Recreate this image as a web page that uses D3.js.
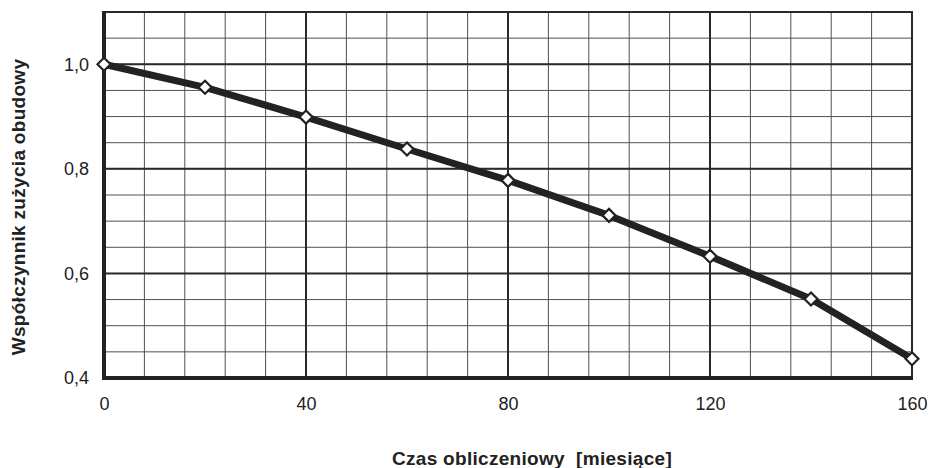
<!DOCTYPE html>
<html><head><meta charset="utf-8">
<script src="https://cdn.jsdelivr.net/npm/d3@7"></script>
<style>body{margin:0;background:#fff}svg{display:block}</style>
</head><body>
<svg id="c" width="930" height="468"></svg>
<script>
const months = [0, 20, 40, 60, 80, 100, 120, 140, 160];
const wear = [1.0, 0.956, 0.899, 0.838, 0.778, 0.711, 0.633, 0.551, 0.437];
const xTicks = [0, 40, 80, 120, 160];
const yTicks = [0.4, 0.6, 0.8, 1.0];
const xMinor = d3.range(0, 161, 8);
const yMinor = d3.range(0, 15).map(i => 0.4 + i * 0.05);
const xTitle = "Czas obliczeniowy  [miesiące]";
const yTitle = "Współczynnik zużycia obudowy";

const svg = d3.select("#c");
const L = 104, R = 912, T = 12, B = 378;
const x = d3.scaleLinear().domain([0, 160]).range([L, R]);
const y = d3.scaleLinear().domain([0.4, 1.1]).range([B, T]);
const font = "Arial, 'Liberation Sans', sans-serif";

const g = svg.append("g");
// minor grid
g.selectAll(".vx").data(xMinor).join("line")
  .attr("x1", d => x(d)).attr("x2", d => x(d)).attr("y1", T).attr("y2", B)
  .attr("stroke", "#505050").attr("stroke-width", 1);
g.selectAll(".hy").data(yMinor).join("line")
  .attr("x1", L).attr("x2", R).attr("y1", d => y(d)).attr("y2", d => y(d))
  .attr("stroke", "#505050").attr("stroke-width", 1);
// major grid
g.selectAll(".vX").data(xTicks).join("line")
  .attr("x1", d => x(d)).attr("x2", d => x(d)).attr("y1", T).attr("y2", B)
  .attr("stroke", "#2a2a2a").attr("stroke-width", 2);
g.selectAll(".hY").data(yTicks).join("line")
  .attr("x1", L).attr("x2", R).attr("y1", d => y(d)).attr("y2", d => y(d))
  .attr("stroke", "#2a2a2a").attr("stroke-width", 2);
// frame
g.append("rect").attr("x", L).attr("y", T).attr("width", R - L).attr("height", B - T)
  .attr("fill", "none").attr("stroke", "#2a2a2a").attr("stroke-width", 2);
g.append("line").attr("x1", L).attr("x2", L).attr("y1", T - 1).attr("y2", B + 2)
  .attr("stroke", "#222").attr("stroke-width", 4);
g.append("line").attr("x1", L - 2).attr("x2", R + 1).attr("y1", B).attr("y2", B)
  .attr("stroke", "#222").attr("stroke-width", 4);

// axes (labels only)
const xAxis = d3.axisBottom(x).tickValues(xTicks).tickSize(0).tickPadding(0).tickFormat(d3.format("d"));
const xa = svg.append("g").attr("transform", `translate(0,${B + 19})`).call(xAxis);
xa.select(".domain").remove();
xa.selectAll("text").attr("font-family", font).attr("font-size", 18).attr("fill", "#222").attr("dy", "0.71em");

const yAxis = d3.axisLeft(y).tickValues(yTicks).tickSize(0).tickPadding(0).tickFormat(d => d3.format(".1f")(d).replace(".", ","));
const ya = svg.append("g").attr("transform", `translate(${L - 15},0)`).call(yAxis);
ya.select(".domain").remove();
ya.selectAll("text").attr("font-family", font).attr("font-size", 18).attr("fill", "#222");

// line
const pts = months.map((m, i) => [m, wear[i]]);
svg.append("path").datum(pts)
  .attr("d", d3.line().x(d => x(d[0])).y(d => y(d[1])))
  .attr("fill", "none").attr("stroke", "#222").attr("stroke-width", 7).attr("stroke-linejoin", "round");
svg.selectAll(".mk").data(pts).join("path")
  .attr("transform", d => `translate(${x(d[0])},${y(d[1])})`)
  .attr("d", "M0,-6.5L6.5,0L0,6.5L-6.5,0Z")
  .attr("fill", "#fff").attr("stroke", "#222").attr("stroke-width", 2.2);

// titles
svg.append("text").attr("x", 532).attr("y", 465).attr("text-anchor", "middle")
  .attr("xml:space", "preserve").style("white-space", "pre")
  .attr("font-family", font).attr("font-weight", "bold").attr("font-size", 19)
  .attr("letter-spacing", 0.3).attr("fill", "#222").text(xTitle);
svg.append("text").attr("transform", `translate(25,207) rotate(-90)`).attr("text-anchor", "middle")
  .attr("font-family", font).attr("font-weight", "bold").attr("font-size", 19)
  .attr("letter-spacing", 0.3).attr("fill", "#222").text(yTitle);
</script>
</body></html>
